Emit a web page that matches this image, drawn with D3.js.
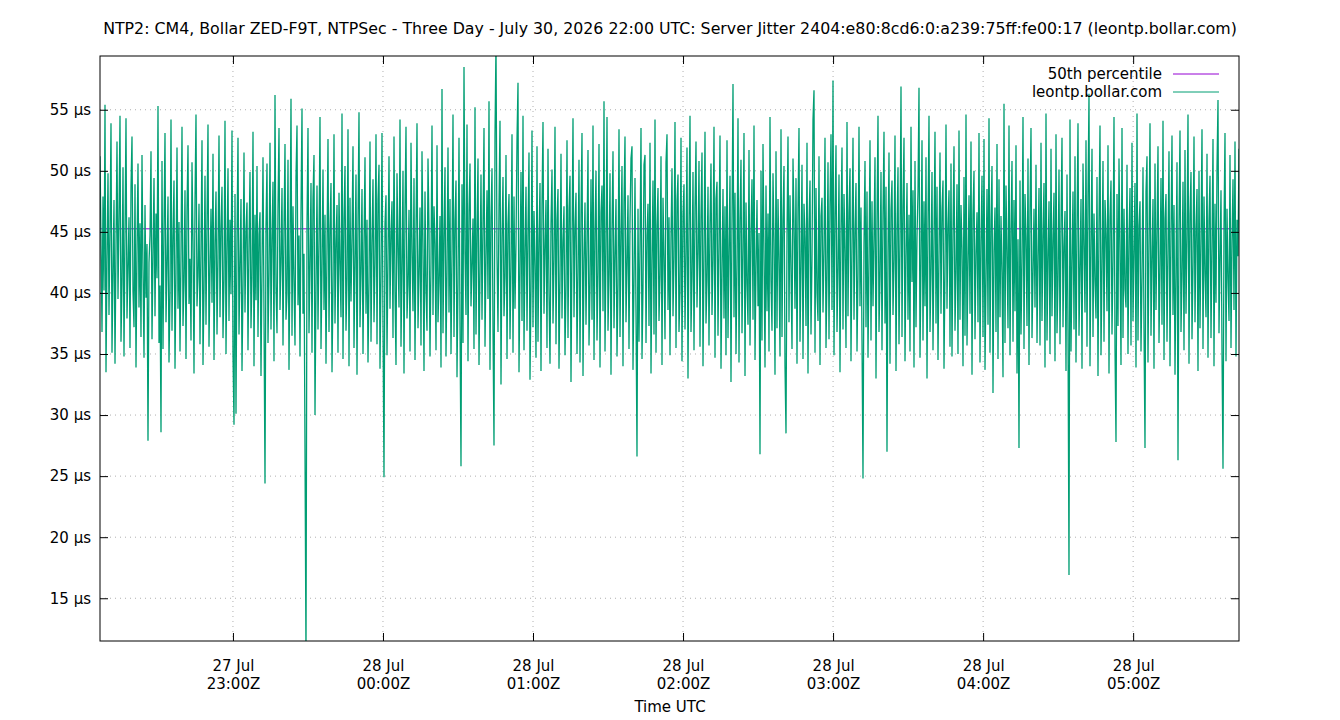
<!DOCTYPE html>
<html>
<head>
<meta charset="utf-8">
<script src="https://cdn.jsdelivr.net/npm/d3@7"></script>
<style>
  body { margin: 0; background: #fff; }
  svg text { font-family: "DejaVu Sans", sans-serif; fill: #000; }
</style>
</head>
<body>
<script>
// chart text
const title = "NTP2: CM4, Bollar ZED-F9T, NTPSec - Three Day - July 30, 2026 22:00 UTC: Server Jitter 2404:e80:8cd6:0:a239:75ff:fe00:17 (leontp.bollar.com)";
const xLabel = "Time UTC";
const seriesName = "leontp.bollar.com";
const medianName = "50th percentile";

// time window of the samples (UTC)
const firstSample = "2026-07-27T22:06:50Z";
const lastSample = "2026-07-28T05:42:20Z";

// x tick labels (hourly)
const xTicks = ["2026-07-27T23:00:00Z", "2026-07-28T00:00:00Z", "2026-07-28T01:00:00Z",
  "2026-07-28T02:00:00Z", "2026-07-28T03:00:00Z", "2026-07-28T04:00:00Z", "2026-07-28T05:00:00Z"];
const yTicks = [15, 20, 25, 30, 35, 40, 45, 50, 55];
const yRange = [11.5, 59.4];

const median = 45.25;

// jitter in microseconds, evenly spaced between firstSample and lastSample
const jitter = [
  51.2, 44.3, 36.8, 47.9, 40.2, 55.4, 33.5, 42.7, 49.8, 38.2,
  45.1, 53.9, 35.1, 41.6, 47.6, 34.2, 43.8, 52.4, 39.5, 46.3,
  54.5, 36.0, 40.8, 50.3, 34.8, 44.9, 54.3, 37.9, 42.1, 46.2,
  35.5, 48.7, 52.8, 40.1, 37.2, 48.9, 33.9, 43.5, 50.6, 38.8,
  45.7, 36.4, 51.3, 41.9, 34.7, 47.2, 39.6, 44.0, 27.9, 42.5,
  44.7, 51.6, 36.2, 43.0, 49.4, 38.1, 46.5, 41.2, 55.3, 35.9,
  40.6, 28.6, 50.8, 35.4, 45.3, 53.1, 37.6, 42.4, 47.9, 34.3,
  39.8, 54.2, 36.9, 44.6, 49.2, 33.8, 41.7, 51.9, 38.7, 45.8,
  35.2, 43.1, 53.6, 37.3, 40.9, 48.4, 34.6, 46.8, 52.1, 39.1,
  42.8, 36.1, 50.7, 44.2, 33.4, 47.5, 54.6, 38.9, 41.4, 47.3,
  35.8, 43.6, 52.5, 34.1, 40.3, 49.6, 37.4, 45.9, 53.8, 35.6,
  41.8, 46.9, 39.2, 51.4, 34.5, 44.1, 48.3, 36.6, 42.9, 52.9,
  38.0, 45.4, 48.7, 36.3, 41.1, 54.1, 35.0, 43.3, 50.2, 37.7,
  46.0, 39.9, 53.3, 34.9, 29.2, 48.1, 30.1, 44.4, 52.7, 36.6,
  42.2, 47.7, 33.6, 40.7, 51.5, 38.4, 45.0, 47.4, 35.3, 43.9,
  49.9, 37.1, 41.3, 53.2, 34.0, 46.4, 39.4, 50.4, 36.4, 44.8,
  46.6, 33.2, 42.0, 51.1, 38.1, 24.4, 45.5, 50.6, 35.9, 41.5,
  52.3, 37.0, 44.5, 49.1, 34.4, 56.2, 40.5, 36.7, 47.0, 53.5,
  38.6, 42.6, 48.6, 35.7, 45.2, 52.2, 37.8, 40.0, 50.9, 33.7,
  43.4, 55.9, 36.5, 47.1, 41.0, 35.7, 49.5, 53.7, 39.0, 44.7,
  34.8, 46.7, 55.1, 38.3, 43.2, 27.2, 10.0, 45.6, 53.5, 36.7,
  42.3, 49.0, 35.1, 47.8, 51.3, 30.0, 40.4, 48.8, 37.0, 44.3,
  54.4, 35.4, 41.9, 50.1, 38.6, 46.4, 34.2, 43.7, 52.6, 36.8,
  45.3, 49.0, 33.5, 40.6, 53.0, 37.5, 44.1, 47.2, 35.1, 48.2,
  42.4, 38.0, 54.7, 34.6, 46.1, 50.4, 36.9, 41.2, 53.4, 34.0,
  47.8, 39.3, 44.6, 52.0, 35.5, 42.7, 49.7, 33.3, 45.8, 54.8,
  37.2, 41.8, 48.5, 35.0, 43.9, 51.1, 38.3, 46.0, 34.3, 40.9,
  52.4, 36.0, 44.2, 49.3, 37.6, 42.5, 53.0, 35.8, 47.6, 50.5,
  33.8, 41.4, 53.1, 37.4, 24.9, 45.7, 48.0, 34.9, 42.9, 51.2,
  38.7, 44.8, 47.5, 36.3, 52.8, 40.1, 34.1, 49.8, 43.6, 38.8,
  54.2, 35.6, 42.0, 50.0, 33.4, 46.9, 53.6, 37.9, 40.7, 46.8,
  35.2, 52.3, 43.4, 38.5, 49.4, 34.5, 45.1, 53.9, 37.1, 41.6,
  47.0, 35.7, 51.6, 43.8, 33.6, 48.3, 40.2, 36.9, 51.0, 45.2,
  34.8, 42.6, 53.7, 38.2, 47.1, 44.0, 35.3, 52.1, 37.6, 41.0,
  46.3, 33.9, 56.7, 36.7, 44.6, 50.3, 34.8, 41.9, 51.9, 38.4,
  47.7, 35.0, 43.1, 54.6, 36.4, 45.9, 49.2, 33.1, 40.8, 52.7,
  37.3, 25.8, 48.9, 35.9, 58.5, 43.3, 38.2, 53.8, 34.4, 46.7,
  50.6, 38.9, 42.3, 46.1, 35.4, 55.2, 36.6, 44.9, 51.0, 34.1,
  41.7, 49.7, 37.8, 45.4, 53.5, 35.6, 42.8, 48.4, 39.5, 55.7,
  33.7, 46.2, 50.2, 37.0, 27.5, 52.9, 60.5, 43.0, 36.8, 47.2,
  54.1, 32.5, 44.5, 49.5, 38.1, 41.3, 51.3, 34.6, 45.6, 48.1,
  36.2, 42.1, 53.0, 35.1, 47.9, 38.7, 44.0, 52.6, 57.2, 33.5,
  41.5, 49.9, 37.7, 54.5, 35.3, 43.5, 48.7, 36.9, 45.1, 51.5,
  32.9, 40.3, 53.3, 37.2, 46.7, 42.2, 34.7, 52.0, 36.0, 44.4,
  49.0, 33.6, 47.3, 54.0, 38.3, 43.7, 47.6, 35.5, 51.8, 40.0,
  34.2, 45.7, 50.1, 37.5, 42.8, 53.6, 35.8, 46.0, 48.5, 33.8,
  41.2, 51.4, 37.9, 44.2, 47.1, 34.9, 40.6, 52.5, 36.3, 46.8,
  49.6, 32.7, 43.9, 54.3, 38.0, 45.3, 48.2, 35.0, 41.8, 50.9,
  34.3, 46.5, 53.1, 33.2, 42.7, 47.4, 37.4, 44.3, 51.7, 35.7,
  40.4, 49.3, 37.8, 53.7, 34.5, 45.0, 50.0, 36.1, 41.7, 52.2,
  33.9, 46.6, 48.8, 38.5, 55.7, 35.2, 43.6, 54.4, 36.9, 41.5,
  49.8, 33.3, 45.2, 51.6, 37.1, 43.1, 47.7, 34.8, 40.7, 53.4,
  36.4, 44.8, 50.4, 34.0, 47.4, 52.8, 37.6, 42.4, 48.0, 35.4,
  45.8, 51.0, 52.0, 33.7, 41.1, 49.4, 38.4, 26.6, 46.9, 36.0,
  43.8, 53.5, 34.6, 40.5, 50.5, 51.3, 35.9, 44.7, 47.3, 37.3,
  52.3, 33.4, 42.6, 49.2, 36.6, 54.2, 35.1, 45.5, 48.6, 37.7,
  41.4, 51.2, 34.1, 47.8, 43.0, 36.2, 50.7, 53.0, 38.6, 46.2,
  34.9, 44.5, 50.2, 38.1, 42.9, 54.0, 35.5, 47.5, 49.7, 36.8,
  40.2, 52.7, 34.4, 46.4, 48.9, 37.0, 43.4, 51.9, 33.0, 45.4,
  54.5, 36.8, 41.3, 49.9, 35.3, 47.0, 52.4, 38.8, 43.3, 50.8,
  35.6, 46.3, 51.5, 34.0, 43.2, 53.2, 37.5, 41.0, 48.7, 35.7,
  45.6, 50.6, 38.2, 42.7, 53.6, 34.7, 47.7, 49.1, 36.5, 44.1,
  52.9, 33.8, 41.6, 48.5, 37.9, 47.1, 34.9, 52.5, 36.3, 43.7,
  49.6, 32.7, 45.8, 57.1, 38.0, 48.2, 35.0, 42.3, 54.3, 34.3,
  46.0, 50.9, 36.7, 43.5, 53.1, 33.2, 47.4, 40.8, 37.4, 51.7,
  35.7, 45.1, 49.3, 37.8, 53.7, 34.5, 42.1, 47.6, 38.9, 44.9,
  26.8, 50.0, 36.1, 52.2, 43.1, 33.9, 48.8, 38.5, 46.5, 35.2,
  54.4, 41.0, 36.9, 49.8, 44.3, 33.3, 51.6, 37.1, 47.7, 42.5,
  34.8, 53.4, 36.4, 46.1, 50.4, 34.0, 28.5, 44.8, 52.8, 37.6,
  48.0, 41.9, 35.4, 51.0, 45.7, 38.7, 49.4, 34.2, 46.9, 53.5,
  36.0, 42.2, 50.5, 34.6, 47.3, 44.5, 37.3, 52.3, 33.4, 45.6,
  49.2, 36.6, 42.8, 54.2, 56.6, 35.1, 48.6, 40.0, 37.7, 51.2,
  34.1, 46.3, 47.8, 38.4, 43.6, 52.7, 35.5, 41.4, 50.7, 36.2,
  47.2, 53.0, 38.6, 57.4, 34.9, 46.2, 52.1, 36.8, 42.0, 49.7,
  33.5, 45.3, 51.9, 37.0, 48.1, 43.3, 35.5, 54.0, 38.1, 46.6,
  50.2, 34.4, 43.9, 52.7, 37.8, 45.0, 49.0, 35.2, 41.6, 53.6,
  38.9, 47.0, 36.1, 24.8, 44.0, 50.8, 37.2, 48.3, 34.7, 42.6,
  52.5, 36.1, 47.5, 38.9, 44.6, 51.1, 33.0, 45.9, 54.5, 36.8,
  41.3, 49.9, 35.3, 46.4, 53.2, 37.5, 48.7, 27.0, 43.4, 51.5,
  34.2, 46.8, 49.2, 38.2, 42.7, 52.9, 33.6, 45.2, 50.3, 35.8,
  44.1, 56.9, 36.4, 47.1, 52.7, 34.4, 43.0, 49.0, 37.8, 46.4,
  35.2, 53.6, 40.9, 48.4, 33.9, 50.8, 37.2, 44.6, 48.3, 56.8,
  34.7, 42.5, 52.5, 36.1, 47.5, 38.9, 51.1, 33.0, 45.8, 54.5,
  36.8, 41.7, 49.9, 35.3, 44.3, 53.2, 37.5, 48.7, 34.5, 43.2,
  51.5, 38.3, 46.8, 49.2, 33.8, 42.0, 53.8, 38.7, 45.4, 48.4,
  35.6, 50.6, 34.8, 44.9, 52.0, 36.9, 41.8, 48.9, 35.0, 53.3,
  37.8, 47.2, 43.6, 34.0, 49.5, 36.5, 54.6, 35.7, 42.3, 48.0,
  38.3, 52.4, 33.3, 46.5, 50.0, 36.2, 43.2, 46.6, 37.6, 53.1,
  34.3, 44.2, 49.6, 36.4, 52.6, 33.7, 41.0, 48.5, 37.4, 54.3,
  35.1, 45.9, 50.4, 31.8, 43.5, 47.0, 36.8, 52.2, 34.6, 49.3,
  38.0, 46.3, 41.7, 33.1, 55.5, 35.9, 48.8, 43.1, 37.1, 53.7,
  34.9, 45.1, 50.8, 36.0, 47.6, 38.5, 52.1, 33.4, 44.4, 27.3,
  49.2, 36.6, 42.6, 54.4, 35.4, 48.1, 44.5, 37.3, 51.0, 34.1,
  46.7, 53.5, 36.3, 41.5, 46.9, 38.8, 50.5, 35.9, 43.0, 48.6,
  35.7, 52.3, 37.7, 44.7, 49.0, 33.9, 54.7, 36.1, 42.9, 47.5,
  35.0, 51.8, 38.1, 44.3, 48.2, 34.4, 53.0, 36.7, 41.1, 50.1,
  35.8, 45.6, 52.7, 37.2, 43.8, 46.7, 33.6, 49.7, 36.9, 16.9,
  54.2, 35.2, 42.4, 48.3, 37.0, 51.2, 34.3, 45.3, 53.9, 36.5,
  41.9, 47.7, 33.8, 50.6, 44.0, 38.4, 52.5, 35.6, 48.0, 56.3,
  34.0, 43.7, 51.8, 36.4, 46.5, 41.0, 37.9, 49.5, 33.2, 45.8,
  53.7, 34.9, 42.1, 50.8, 36.0, 47.6, 44.8, 38.5, 52.1, 33.4,
  46.2, 49.2, 36.6, 42.7, 54.4, 35.4, 27.8, 48.1, 37.3, 51.0,
  43.4, 34.1, 53.5, 36.3, 46.9, 40.3, 38.8, 50.5, 35.0, 44.6,
  48.6, 35.7, 52.3, 37.7, 43.3, 49.0, 33.9, 54.7, 36.1, 45.5,
  47.5, 35.2, 41.2, 50.3, 37.0, 27.3, 48.3, 51.2, 34.3, 44.0,
  53.9, 36.5, 42.8, 47.7, 33.8, 50.6, 38.6, 45.1, 52.0, 35.9,
  41.7, 49.4, 37.4, 54.1, 34.5, 46.1, 48.1, 36.0, 43.6, 51.6,
  34.0, 44.9, 52.9, 38.2, 47.2, 33.3, 42.0, 50.7, 26.3, 45.6,
  53.3, 36.8, 41.4, 49.1, 35.3, 51.7, 38.3, 44.7, 54.6, 34.2,
  46.4, 49.9, 36.2, 42.4, 52.8, 37.6, 45.2, 48.5, 33.6, 50.0,
  37.1, 44.3, 53.4, 35.4, 47.9, 41.6, 38.0, 51.4, 34.7, 46.0,
  49.6, 36.3, 43.8, 52.6, 34.0, 47.3, 39.2, 50.3, 55.8, 36.7,
  42.7, 48.4, 35.1, 25.6, 45.4, 53.1, 34.4, 46.9, 41.2, 37.7,
  51.3, 35.5, 44.2, 49.3, 38.6, 52.4, 34.8, 46.0, 43.0, 51.8
];

const width = 1340, height = 720;
const margin = { top: 56, right: 101, bottom: 79, left: 100 };
const plotW = width - margin.left - margin.right;
const plotH = height - margin.top - margin.bottom;

const t0 = new Date(firstSample), t1 = new Date(lastSample);
const timeAt = d3.scaleLinear().domain([0, jitter.length - 1]).range([+t0, +t1]);
const data = jitter.map((v, i) => ({ t: new Date(timeAt(i)), v }));

const x = d3.scaleUtc().domain([t0, t1]).range([0, plotW]);
const y = d3.scaleLinear().domain(yRange).range([plotH, 0]);

const svg = d3.select('body').append('svg')
    .attr('width', width)
    .attr('height', height);

svg.append('text')
    .attr('x', width / 2).attr('y', 34)
    .attr('text-anchor', 'middle')
    .style('font-size', '15.8px')
    .text(title);

const g = svg.append('g').attr('transform', `translate(${margin.left},${margin.top})`);

g.append('defs').append('clipPath').attr('id', 'clip')
  .append('rect').attr('width', plotW).attr('height', plotH);

// grid
const tickDates = xTicks.map(d => new Date(d));
g.append('g').selectAll('line').data(tickDates).join('line')
    .attr('x1', d => x(d)).attr('x2', d => x(d))
    .attr('y1', 0).attr('y2', plotH)
    .attr('stroke', '#b0b0b0').attr('stroke-width', 1)
    .attr('stroke-dasharray', '1,4');
g.append('g').selectAll('line').data(yTicks).join('line')
    .attr('x1', 0).attr('x2', plotW)
    .attr('y1', d => y(d)).attr('y2', d => y(d))
    .attr('stroke', '#b0b0b0').attr('stroke-width', 1)
    .attr('stroke-dasharray', '1,4');

// median line, then data on top
g.append('line')
    .attr('clip-path', 'url(#clip)')
    .attr('x1', 0).attr('x2', plotW)
    .attr('y1', y(median)).attr('y2', y(median))
    .attr('stroke', '#9400d3').attr('stroke-width', 1);

const line = d3.line().x(d => x(d.t)).y(d => y(d.v));
g.append('path')
    .datum(data)
    .attr('clip-path', 'url(#clip)')
    .attr('fill', 'none')
    .attr('stroke', '#009e73')
    .attr('stroke-width', 1.3)
    .attr('d', line);

// axes (gnuplot style: ticks inward, mirrored)
const fmtDay = d3.utcFormat('%d %b');
const fmtHour = d3.utcFormat('%H:%MZ');

const xAxis = g.append('g').attr('transform', `translate(0,${plotH})`)
    .call(d3.axisBottom(x).tickValues(tickDates).tickSize(-8).tickFormat(''));
const xLabels = xAxis.selectAll('.tick').append('g');
xLabels.append('text').attr('y', 30).attr('text-anchor', 'middle')
    .style('font-size', '15px').text(d => fmtDay(d).replace(/^0/, ''));
xLabels.append('text').attr('y', 48).attr('text-anchor', 'middle')
    .style('font-size', '15px').text(d => fmtHour(d));

g.append('g').call(d3.axisTop(x).tickValues(tickDates).tickSize(-8).tickFormat(''));

const yAxis = g.append('g')
    .call(d3.axisLeft(y).tickValues(yTicks).tickSize(-8).tickPadding(9).tickFormat(d => d + ' µs'));
yAxis.selectAll('text').style('font-size', '15px').attr('fill', '#000')
    .style('font-family', '"DejaVu Sans", sans-serif');

g.append('g').attr('transform', `translate(${plotW},0)`)
    .call(d3.axisRight(y).tickValues(yTicks).tickSize(-8).tickFormat(''));

g.selectAll('.domain').remove();
g.selectAll('.tick line').attr('stroke', '#000');

g.append('rect')
    .attr('width', plotW).attr('height', plotH)
    .attr('fill', 'none').attr('stroke', '#000').attr('stroke-width', 1);

svg.append('text')
    .attr('x', width / 2).attr('y', 712)
    .attr('text-anchor', 'middle')
    .style('font-size', '15px')
    .text(xLabel);

// legend
const legend = [{ name: medianName, color: '#9400d3' }, { name: seriesName, color: '#009e73' }];
const leg = svg.append('g').selectAll('g').data(legend).join('g')
    .attr('transform', (d, i) => `translate(1162,${74 + i * 18})`);
leg.append('text').attr('text-anchor', 'end').attr('dy', '0.35em')
    .style('font-size', '15px').text(d => d.name);
leg.append('line').attr('x1', 11).attr('x2', 57)
    .attr('stroke', d => d.color).attr('stroke-width', 1);
</script>
</body>
</html>
